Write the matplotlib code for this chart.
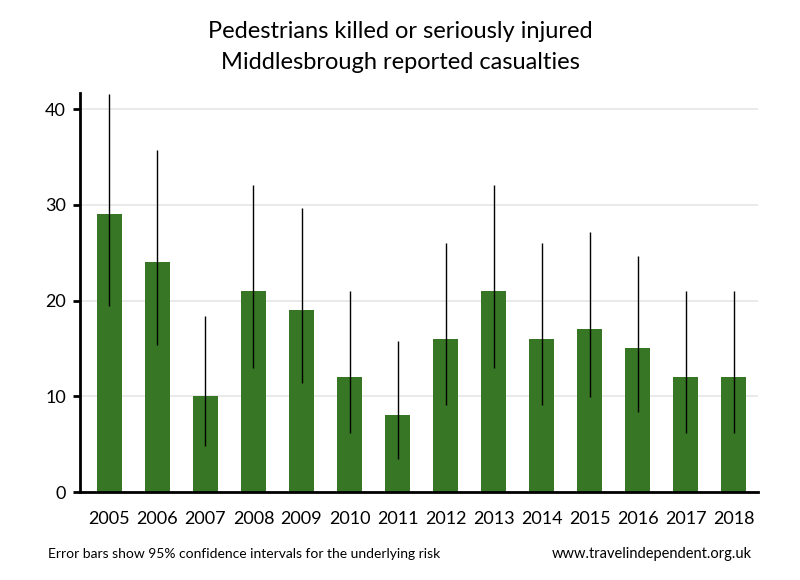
import matplotlib
matplotlib.use("Agg")
import matplotlib.pyplot as plt
import numpy as np

plt.rcParams['font.family'] = ['Lato', 'DejaVu Sans']

years = ["2005", "2006", "2007", "2008", "2009", "2010", "2011", "2012",
         "2013", "2014", "2015", "2016", "2017", "2018"]
casualties = [29, 24, 10, 21, 19, 12, 8, 16, 21, 16, 17, 15, 12, 12]
ci_low = [19.4, 15.4, 4.8, 13.0, 11.4, 6.2, 3.5, 9.1, 13.0, 9.1, 9.9, 8.4, 6.2, 6.2]
ci_high = [41.6, 35.7, 18.4, 32.1, 29.7, 21.0, 15.8, 26.0, 32.1, 26.0, 27.2, 24.7, 21.0, 21.0]

bar_color = "#377624"

fig = plt.figure(figsize=(8, 5.8), dpi=100)
ax = fig.add_axes([0.1, 0.1517, 0.8475, 0.6873])

x = np.arange(len(years))
ax.bar(x, casualties, width=0.52, color=bar_color, zorder=2)
ax.vlines(x, ci_low, ci_high, color="black", linewidth=1, zorder=3)

ax.set_xlim(-0.61, 13.5)
ax.set_ylim(0, 41.65)
ax.set_yticks([0, 10, 20, 30, 40])
ax.set_xticks(x)
ax.set_xticklabels(years)
ax.tick_params(axis='x', length=0, pad=14, labelsize=13)
ax.tick_params(axis='y', length=5, width=2, pad=5, labelsize=13, direction='out')
ax.yaxis.grid(True, color="#e6e6e6", linewidth=1.2, zorder=0)
ax.set_axisbelow(True)

for s in ['top', 'right']:
    ax.spines[s].set_visible(False)
ax.spines['left'].set_linewidth(2)
ax.spines['bottom'].set_linewidth(2)

fig.text(0.5, 0.945, "Pedestrians killed or seriously injured", ha='center', va='center', fontsize=17)
fig.text(0.5, 0.893, "Middlesbrough reported casualties", ha='center', va='center', fontsize=17)

fig.text(0.06, 0.045, "Error bars show 95% confidence intervals for the underlying risk",
         ha='left', va='center', fontsize=10)
fig.text(0.94, 0.045, "www.travelindependent.org.uk", ha='right', va='center', fontsize=10.5)

fig.savefig("out.png", dpi=100)
